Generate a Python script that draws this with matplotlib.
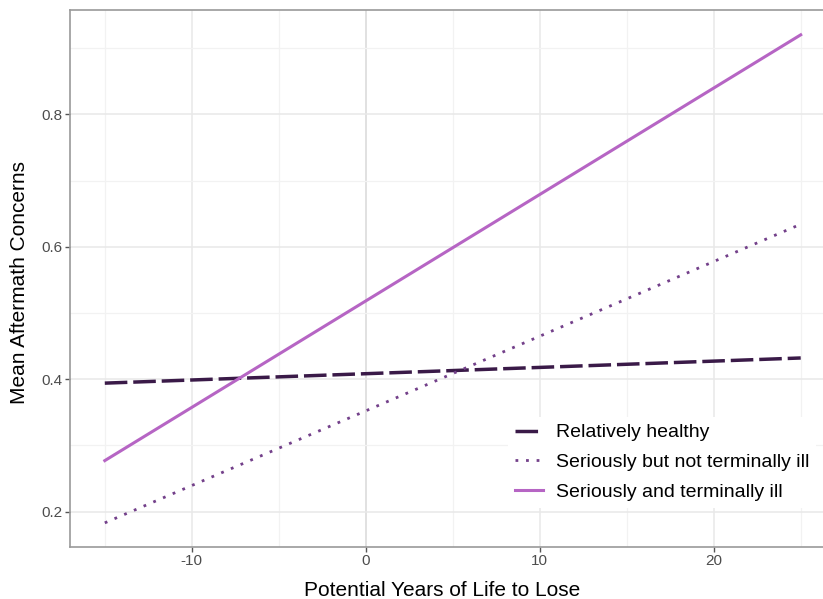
import matplotlib.pyplot as plt
import numpy as np

plt.rcParams['font.family'] = ['Liberation Sans', 'DejaVu Sans']

# line end points
years = [-15, 25]
healthy = [0.394, 0.432]
not_terminal = [0.183, 0.634]
terminal = [0.277, 0.920]
labels = ['Relatively healthy', 'Seriously but not terminally ill', 'Seriously and terminally ill']
colors = ['#3a1a48', '#73408a', '#b665c4']

fig = plt.figure(figsize=(8.23, 5.99), dpi=100)
ax = fig.add_axes([70/823, 1-546.7/599, 765.5/823, 536.7/599])

ax.set_xlim(-17, 27)
ax.set_ylim(0.147, 0.9575)

# grid like theme_bw
ax.set_xticks([-10, 0, 10, 20])
ax.set_xticks([-15, -5, 5, 15, 25], minor=True)
ax.set_yticks([0.2, 0.4, 0.6, 0.8])
ax.set_yticks([0.3, 0.5, 0.7, 0.9], minor=True)
ax.grid(True, which='major', color='#e8e8e8', lw=1.1, zorder=0)
ax.grid(True, which='minor', color='#f2f2f2', lw=0.9, zorder=0)
ax.tick_params(which='minor', length=0)
ax.tick_params(which='major', length=3.5, width=1, color='#555555',
               labelsize=11, labelcolor='#4d4d4d', pad=2)
ax.set_xticklabels(['-10', '0', '10', '20'])
ax.set_yticklabels(['0.2', '0.4', '0.6', '0.8'])
ax.axvline(0, color='#cccccc', lw=1.4, zorder=1)

for s in ax.spines.values():
    s.set_color('#9a9a9a')
    s.set_linewidth(1.2)

ax.plot(years, healthy, color=colors[0], lw=2.5, dashes=(6.5, 1.7), label=labels[0], zorder=3)
ax.plot(years, not_terminal, color=colors[1], lw=2.0, dashes=(1, 2.8), label=labels[1], zorder=3)
ax.plot(years, terminal, color=colors[2], lw=2.2, label=labels[2], zorder=3)

leg = ax.legend(loc='upper left', bbox_to_anchor=((508-70)/765.5, (546.7-417)/536.7),
                frameon=True, fontsize=14, handlelength=1.45, handletextpad=0.65,
                labelspacing=0.62, borderpad=0.35, borderaxespad=0)
leg.get_frame().set_facecolor('white')
leg.get_frame().set_edgecolor('none')
leg.get_frame().set_alpha(1)

ax.set_xlabel('Potential Years of Life to Lose', fontsize=15)
ax.xaxis.set_label_coords((442-70)/765.5, (546.7-590)/536.7)
ax.xaxis.label.set_va('center')
ax.set_ylabel('Mean Aftermath Concerns', fontsize=15)
ax.yaxis.set_label_coords((20-70)/765.5, (546.7-283)/536.7)
ax.yaxis.label.set_va('center')

fig.savefig('out.png', dpi=100)
